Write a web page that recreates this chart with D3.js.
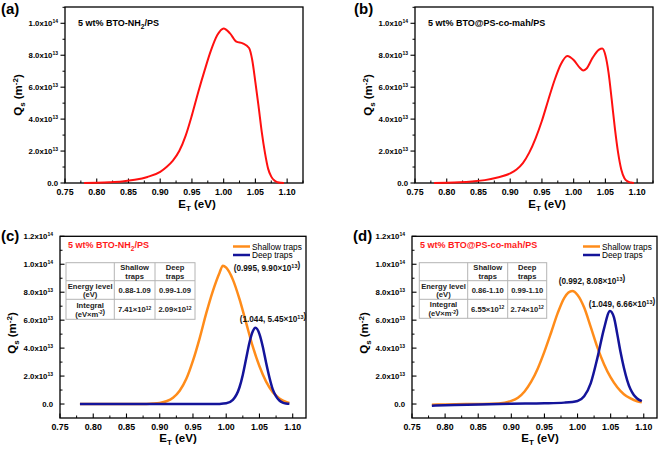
<!DOCTYPE html>
<html><head><meta charset="utf-8">
<script src="https://cdn.jsdelivr.net/npm/d3@7"></script>
<style>
body{margin:0;background:#fff;}
svg{display:block;font-family:Arial,"Liberation Sans",sans-serif;}
</style></head>
<body><svg id="c" width="661" height="449"></svg>
<script>
// ---- data (Q_s in units of 1e13 m^-2) ----
const aX = [0.78,0.80,0.82,0.84,0.86,0.88,0.90,0.91,0.92,0.93,0.94,0.95,0.96,0.97,0.98,0.99,1.00,1.01,1.02,1.03,1.04,1.045,1.05,1.055,1.06,1.065,1.07,1.075,1.08,1.085,1.09,1.095];
const aY = [0,0.02,0.05,0.1,0.2,0.38,0.7,1.0,1.4,2.0,2.95,4.25,5.7,7.05,8.3,9.26,9.68,9.37,8.85,8.74,8.45,7.7,6.3,4.8,3.2,1.9,0.9,0.4,0.15,0.05,0.01,0];
const bX = [0.78,0.80,0.82,0.84,0.86,0.88,0.90,0.91,0.92,0.93,0.94,0.95,0.96,0.97,0.98,0.99,1.00,1.01,1.015,1.02,1.03,1.04,1.045,1.05,1.055,1.06,1.065,1.07,1.075,1.08,1.085,1.09,1.095];
const bY = [0,0.02,0.05,0.1,0.18,0.35,0.6,0.85,1.25,1.9,2.8,3.9,5.2,6.45,7.45,7.95,7.7,7.2,7.05,7.15,7.85,8.35,8.42,8.0,6.9,5.2,3.4,1.9,0.85,0.3,0.1,0.03,0];
const cShallowX = [0.78,0.85,0.88,0.89,0.90,0.91,0.92,0.93,0.94,0.95,0.96,0.97,0.98,0.99,0.995,1.00,1.01,1.02,1.03,1.04,1.05,1.06,1.07,1.08,1.09,1.095];
const cShallowY = [0,0,0.01,0.03,0.08,0.2,0.45,0.95,1.8,3.1,4.7,6.5,8.1,9.4,9.9,9.75,8.9,7.5,5.8,4.1,2.7,1.6,0.85,0.4,0.15,0.08];
const cDeepX = [0.78,0.98,0.99,1.00,1.01,1.02,1.025,1.03,1.035,1.04,1.044,1.05,1.055,1.06,1.065,1.07,1.075,1.08,1.085,1.09,1.095];
const cDeepY = [0,0,0.01,0.05,0.3,1.2,2.1,3.25,4.4,5.2,5.45,5.0,4.1,2.95,1.9,1.05,0.55,0.25,0.1,0.04,0.02];
const dShallowX = [0.78,0.80,0.84,0.87,0.89,0.90,0.91,0.92,0.93,0.94,0.95,0.96,0.97,0.98,0.992,1.00,1.01,1.02,1.03,1.04,1.05,1.06,1.07,1.08,1.09,1.097];
const dShallowY = [-0.05,-0.03,0,0.02,0.1,0.22,0.45,0.9,1.6,2.55,3.75,5.1,6.5,7.6,8.08,7.8,6.9,5.5,4.05,2.85,1.9,1.2,0.7,0.4,0.2,0.12];
const dDeepX = [0.78,0.80,0.85,0.90,0.95,0.98,1.00,1.01,1.02,1.03,1.04,1.049,1.055,1.06,1.065,1.07,1.075,1.08,1.085,1.09,1.097];
const dDeepY = [-0.12,-0.08,-0.03,0.02,0.05,0.1,0.22,0.55,1.5,3.3,5.4,6.66,6.2,5.0,3.7,2.6,1.7,1.05,0.65,0.4,0.2];

const xTicks = [0.75,0.80,0.85,0.90,0.95,1.00,1.05,1.10];
const yTicksTop = [0,2,4,6,8,10];
const yTicksBottom = [0,2,4,6,8,10,12];
const yTickText = {0:["0.0",""],2:["2.0x10","13"],4:["4.0x10","13"],6:["6.0x10","13"],8:["8.0x10","13"],10:["1.0x10","14"],12:["1.2x10","14"]};

const panelLetters = ["(a)","(b)","(c)","(d)"];
const sampleNames = [["5 wt% BTO-NH","2","/PS"],["5 wt% BTO@PS-co-mah/PS"]];
const legendNames = ["Shallow traps","Deep traps"];
const peakLabels = {
  c: [["(0.995, 9.90×10","13",")"],["(1.044, 5.45×10","13",")"]],
  d: [["(0.992, 8.08×10","13",")"],["(1.049, 6.66×10","13",")"]]
};
const tableHeader = [["",""],["Shallow","traps"],["Deep","traps"]];
const tableRowLabels = [["Energy level","(eV)"],["Integral","(eV×m","-2",")"]];
const tableC = [["0.88-1.09","0.99-1.09"],[["7.41×10","12"],["2.09×10","12"]]];
const tableD = [["0.86-1.10","0.99-1.10"],[["6.55×10","12"],["2.74×10","12"]]];

const RED = "#ff1010", ORANGE = "#ff8c1a", BLUE = "#14149a";
const svg = d3.select("#c");

function sup(t, base, s, size, supSize, k){
  const f = k || 0.4;
  t.append("tspan").text(base);
  if(s){ t.append("tspan").attr("dy", -size*f).attr("font-size", supSize).text(s);
         t.append("tspan").attr("dy", size*f).text(""); }
}

function panel(o){
  const x = d3.scaleLinear().domain(o.xd).range([o.l,o.r]);
  const y = d3.scaleLinear().domain(o.yd).range([o.b,o.t]);
  const g = svg.append("g");
  const minorX = d3.range(0.775, o.xd[1]+1e-9, 0.05);
  g.selectAll(null).data(minorX).join("line").attr("x1",d=>x(d)).attr("x2",d=>x(d))
    .attr("y1",o.b).attr("y2",o.b-2.5).attr("stroke","#000").attr("stroke-width",1);
  g.selectAll(null).data(xTicks).join("line").attr("x1",d=>x(d)).attr("x2",d=>x(d))
    .attr("y1",o.b).attr("y2",o.b-4.5).attr("stroke","#000").attr("stroke-width",1.1);
  g.selectAll(null).data(xTicks).join("text").attr("x",d=>x(d)).attr("y",o.b+11.5)
    .attr("text-anchor","middle").attr("font-size",8.8).attr("font-weight","bold").text(d=>d.toFixed(2));
  const yt = o.yticks;
  const dir = o.yout ? -1 : 1;
  const minorY = d3.range(o.yd[0] < 0 ? -1 : 1, o.yd[1], 2).filter(v=>v>o.yd[0] && v<o.yd[1]);
  g.selectAll(null).data(minorY).join("line").attr("x1",o.l).attr("x2",o.l+dir*2.5)
    .attr("y1",d=>y(d)).attr("y2",d=>y(d)).attr("stroke","#000").attr("stroke-width",1);
  g.selectAll(null).data(yt).join("line").attr("x1",o.l).attr("x2",o.l+dir*4.5)
    .attr("y1",d=>y(d)).attr("y2",d=>y(d)).attr("stroke","#000").attr("stroke-width",1.1);
  yt.forEach(v=>{
    const t = g.append("text").attr("x",o.l-7).attr("y",y(v)+3).attr("text-anchor","end")
      .attr("font-size",7.8).attr("font-weight","bold");
    sup(t, yTickText[v][0], yTickText[v][1], 7.8, 5);
  });
  g.append("rect").attr("x",o.l).attr("y",o.t).attr("width",o.r-o.l).attr("height",o.b-o.t)
    .attr("fill","none").attr("stroke","#000").attr("stroke-width",1.3);
  const xt = g.append("text").attr("x",o.xtx).attr("y",o.xty).attr("text-anchor","middle")
    .attr("font-size",11.5).attr("font-weight","bold");
  xt.append("tspan").text("E");
  xt.append("tspan").attr("dy",3).attr("font-size",8).text("T");
  xt.append("tspan").attr("dy",-3).text(" (eV)");
  const ytl = g.append("text").attr("transform",`translate(${o.ytx},${o.yty}) rotate(-90)`)
    .attr("text-anchor","middle").attr("font-size",11.5).attr("font-weight","bold");
  ytl.append("tspan").text("Q");
  ytl.append("tspan").attr("dy",3).attr("font-size",8).text("s");
  ytl.append("tspan").attr("dy",-3).text(" (m");
  ytl.append("tspan").attr("dy",-4.5).attr("font-size",8).text("-2");
  ytl.append("tspan").attr("dy",4.5).text(")");
  svg.append("text").attr("x",o.lx).attr("y",o.ly).attr("font-size",15).attr("font-weight","bold").text(o.letter);
  const s = g.append("text").attr("x",o.sx).attr("y",o.sy).attr("font-size",9).attr("font-weight","bold")
    .attr("fill",o.scol);
  s.append("tspan").text(o.name[0]);
  if(o.name.length>1){
    s.append("tspan").attr("dy",2.5).attr("font-size",6.5).text(o.name[1]);
    s.append("tspan").attr("dy",-2.5).text(o.name[2]);
  }
  const line = d3.line().x(d=>x(d[0])).y(d=>y(d[1])).curve(d3.curveMonotoneX);
  o.series.forEach(sr=>{
    g.append("path").attr("d",line(d3.zip(sr.x,sr.y))).attr("fill","none")
      .attr("stroke",sr.c).attr("stroke-width",sr.w).attr("stroke-linejoin","round");
  });
  return {x,y,g};
}

panel({l:65,r:303,t:7,b:183,xd:[0.75,1.125],yd:[0,11.02],yticks:yTicksTop,yout:true,
  xtx:197,xty:208,ytx:22,yty:95,letter:panelLetters[0],lx:1,ly:14,
  name:sampleNames[0],sx:78,sy:26,scol:"#000",
  series:[{x:aX,y:aY,c:RED,w:2}]});
panel({l:415,r:653,t:7,b:183,xd:[0.75,1.125],yd:[0,11.02],yticks:yTicksTop,yout:true,
  xtx:547,xty:208,ytx:372,yty:95,letter:panelLetters[1],lx:354,ly:14,
  name:sampleNames[1],sx:428,sy:26,scol:"#000",
  series:[{x:bX,y:bY,c:RED,w:2}]});

function bottomPanel(o, peaks, tbl){
  const p = panel(o);
  const g = p.g;
  const lg = [[ORANGE,legendNames[0]],[BLUE,legendNames[1]]];
  lg.forEach((d,i)=>{
    const yy = o.legy + i*8.5;
    g.append("line").attr("x1",o.legx).attr("x2",o.legx+17).attr("y1",yy).attr("y2",yy)
      .attr("stroke",d[0]).attr("stroke-width",2.5);
    g.append("text").attr("x",o.legx+19).attr("y",yy+3).attr("font-size",8.3).text(d[1]);
  });
  peaks.forEach((pk,i)=>{
    const t = g.append("text").attr("x",o.pk[i][0]).attr("y",o.pk[i][1]).attr("text-anchor","middle")
      .attr("font-size",8.2).attr("font-weight","bold").attr("fill","#111");
    sup(t, pk[0], pk[1], 8.2, 5.5);
    t.append("tspan").text(pk[2]);
  });
  const cols = o.tcols, rows = o.trows;
  const tg = g.append("g");
  tg.append("rect").attr("x",cols[0]).attr("y",rows[0]).attr("width",cols[3]-cols[0]).attr("height",rows[3]-rows[0])
    .attr("fill","#fff").attr("stroke","#b4b4b4").attr("stroke-width",1);
  [1,2].forEach(i=>{
    tg.append("line").attr("x1",cols[i]).attr("x2",cols[i]).attr("y1",rows[0]).attr("y2",rows[3]).attr("stroke","#b4b4b4");
    tg.append("line").attr("x1",cols[0]).attr("x2",cols[3]).attr("y1",rows[i]).attr("y2",rows[i]).attr("stroke","#b4b4b4");
  });
  const fs = 7.6;
  function cell(ci, ri, lines, gap){
    const cx = (cols[ci]+cols[ci+1])/2, cy = (rows[ri]+rows[ri+1])/2;
    const n = lines.length, sp = gap || 8.2;
    lines.forEach((ln,k)=>{
      const t = tg.append("text").attr("x",cx).attr("y",cy + (k-(n-1)/2)*sp + 2.8)
        .attr("text-anchor","middle").attr("font-size",fs).attr("font-weight","bold").attr("fill","#222");
      if(Array.isArray(ln)){ sup(t, ln[0], ln[1], fs, 5, 0.3); if(ln[2]) t.append("tspan").text(ln[2]); }
      else t.text(ln);
    });
  }
  cell(1,0,tableHeader[1]); cell(2,0,tableHeader[2]);
  cell(0,1,tableRowLabels[0]);
  cell(0,2,[tableRowLabels[1][0],[tableRowLabels[1][1],tableRowLabels[1][2],tableRowLabels[1][3]]], 9);
  cell(1,1,[tbl[0][0]]); cell(2,1,[tbl[0][1]]);
  cell(1,2,[tbl[1][0]]); cell(2,2,[tbl[1][1]]);
}

bottomPanel({l:60,r:306,t:236.3,b:418,xd:[0.75,1.12],yd:[-1,12],yticks:yTicksBottom,yout:false,
  xtx:178,xty:442,ytx:16,yty:333,letter:panelLetters[2],lx:1,ly:241,
  name:sampleNames[0],sx:68,sy:248,scol:"#ff1a1a",
  series:[{x:cShallowX,y:cShallowY,c:ORANGE,w:2.5},{x:cDeepX,y:cDeepY,c:BLUE,w:2.5}],
  legx:233,legy:246.5,pk:[[267,271],[273,322]],
  tcols:[66,114.3,155,195],trows:[262.7,280.7,299.3,319.3]}, peakLabels.c, tableC);

bottomPanel({l:412,r:657,t:236.3,b:418,xd:[0.75,1.12],yd:[-1,12],yticks:yTicksBottom,yout:false,
  xtx:540,xty:442,ytx:368,yty:333,letter:panelLetters[3],lx:353,ly:241,
  name:sampleNames[1],sx:420,sy:248,scol:"#ff1a1a",
  series:[{x:dShallowX,y:dShallowY,c:ORANGE,w:2.5},{x:dDeepX,y:dDeepY,c:BLUE,w:2.5}],
  legx:583,legy:246.5,pk:[[592,284],[622,307]],
  tcols:[419.3,467.7,507.7,546.7],trows:[262.7,280.7,299.3,318.3]}, peakLabels.d, tableD);
</script></body></html>
